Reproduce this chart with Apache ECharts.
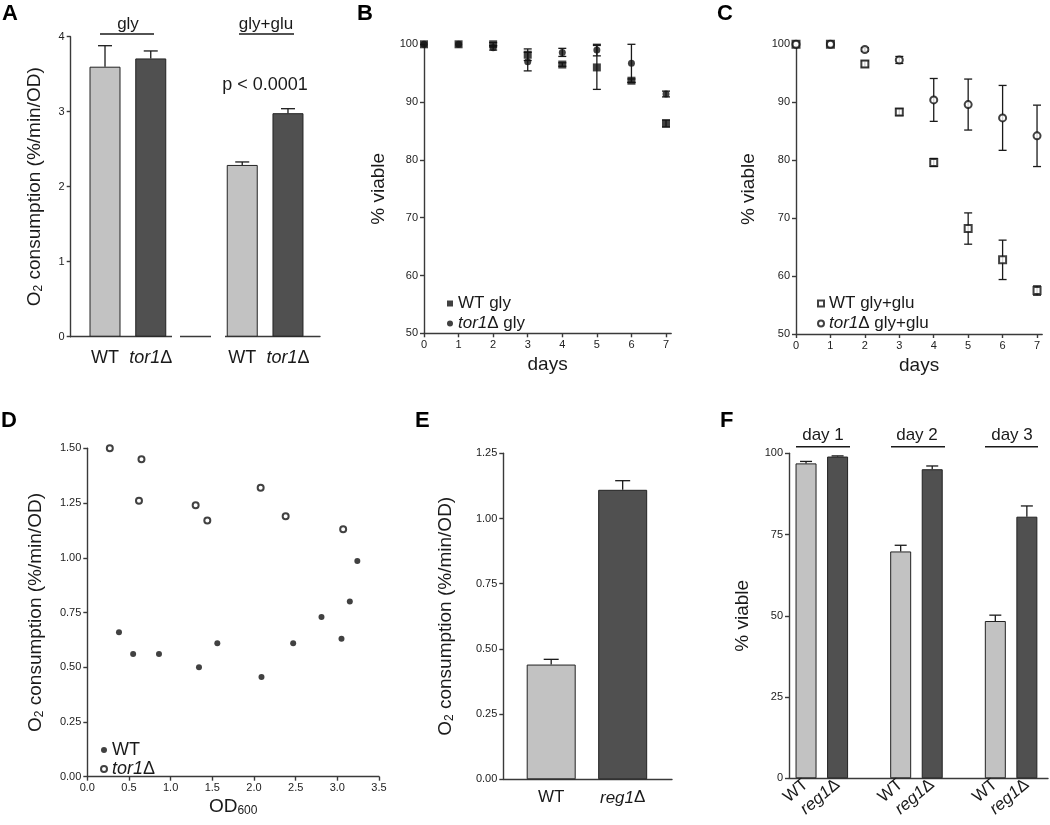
<!DOCTYPE html>
<html>
<head>
<meta charset="utf-8">
<script src="https://cdn.jsdelivr.net/npm/echarts@6/dist/echarts.min.js"></script>
<style>
html, body { margin: 0; padding: 0; background: #fff; }
#chart { width: 1050px; height: 825px; }
</style>
</head>
<body>
<div id="chart"></div>
<script>
// ---- data ----
// A: O2 consumption, gly vs gly+glu
var aGroups = ["gly", "gly+glu"];
var aStrains = ["WT", "tor1Δ"];
var aMean = [3.60, 3.71, 2.29, 2.98];
var aErr = [0.28, 0.10, 0.04, 0.06];

// B / C: viability over days
var days = [0, 1, 2, 3, 4, 5, 6, 7];
var bWT = [100, 100, 100, 98.2, 96.5, 96.0, 93.7, 86.3];
var bWTErr = [0, 0, 0.3, 1.0, 0.3, 3.8, 0.3, 0.6];
var bTor = [100, 100, 99.4, 97.0, 98.6, 99.0, 96.7, 91.4];
var bTorErr = [0, 0, 0.4, 1.6, 0.7, 1.0, 3.3, 0.5];
var cWT = [100, 100, 96.6, 88.3, 79.6, 68.2, 62.8, 57.5];
var cWTErr = [0, 0, 0.5, 0.6, 0.7, 2.7, 3.4, 0.8];
var cTor = [100, 100, 99.1, 97.3, 90.4, 89.6, 87.3, 84.2];
var cTorErr = [0, 0, 0.3, 0.6, 3.7, 4.4, 5.6, 5.3];

// D: O2 consumption vs OD600
var dWTx = [0.38, 0.55, 0.86, 1.34, 1.56, 2.09, 2.47, 2.81, 3.05, 3.15, 3.24];
var dWTy = [0.66, 0.56, 0.56, 0.50, 0.61, 0.455, 0.61, 0.73, 0.63, 0.80, 0.985];
var dTorX = [0.27, 0.65, 0.62, 1.30, 1.44, 2.08, 2.38, 3.07];
var dTorY = [1.50, 1.45, 1.26, 1.24, 1.17, 1.32, 1.19, 1.13];

// E: WT vs reg1
var eStrains = ["WT", "reg1Δ"];
var eMean = [0.44, 1.11];
var eErr = [0.02, 0.035];

// F: viability day 1-3
var fDays = ["day 1", "day 2", "day 3"];
var fStrains = ["WT", "reg1Δ"];
var fWT = [96.9, 69.8, 48.4];
var fWTErr = [0.6, 1.9, 1.8];
var fReg = [99.0, 95.1, 80.5];
var fRegErr = [0.2, 1.0, 3.3];

// ---- helpers ----
var FONT = "Liberation Sans, Arial, sans-serif";
var INK = "#1a1a1a";
var LIGHT = "#c2c2c2";
var DARK = "#505050";

function groupPos(i) {
  return Math.floor(i / 2) * 3 + (i % 2) + 1;
}

function errBars(capW, lowerCap) {
  return function (params, api) {
    var x = api.value(0);
    var top = api.coord([x, api.value(2)]);
    var bot = api.coord([x, api.value(1)]);
    if (Math.abs(top[1] - bot[1]) < 0.5) return null;
    var kids = [
      { type: "line", shape: { x1: top[0], y1: top[1], x2: bot[0], y2: bot[1] }, style: { stroke: INK, lineWidth: 1.3 } },
      { type: "line", shape: { x1: top[0] - capW / 2, y1: top[1], x2: top[0] + capW / 2, y2: top[1] }, style: { stroke: INK, lineWidth: 1.3 } }
    ];
    if (lowerCap) {
      kids.push({ type: "line", shape: { x1: bot[0] - capW / 2, y1: bot[1], x2: bot[0] + capW / 2, y2: bot[1] }, style: { stroke: INK, lineWidth: 1.3 } });
    }
    return { type: "group", children: kids };
  };
}

function strainLabel(s) {
  var m = s.match(/^(.*?)(Δ)$/);
  return m ? "{i|" + m[1] + "}{n|Δ}" : "{n|" + s + "}";
}

function richLabel(size) {
  return {
    n: { fontSize: size, fontFamily: FONT, color: INK },
    i: { fontSize: size, fontFamily: FONT, color: INK, fontStyle: "italic" }
  };
}

var axisLineStyle = { lineStyle: { color: "#3a3a3a", width: 1.4 } };
var tickLabel = { fontSize: 11, color: "#222", fontFamily: FONT, margin: 6 };
var nameStyle = {
  fontSize: 19, color: INK, fontFamily: FONT,
  rich: { sub: { fontSize: 12, fontFamily: FONT, color: INK, padding: [8, 0, 0, 0] } }
};

function yAx(grid, min, max, interval, name, gap, digits) {
  return {
    type: "value", gridIndex: grid, min: min, max: max, interval: interval,
    name: name, nameLocation: "middle", nameRotate: 90, nameGap: gap, nameTextStyle: nameStyle,
    axisLine: { show: true, lineStyle: axisLineStyle.lineStyle },
    axisTick: { show: true, length: 4, lineStyle: axisLineStyle.lineStyle },
    axisLabel: Object.assign({}, tickLabel, {
      formatter: function (v) { return digits ? v.toFixed(digits) : String(v); }
    }),
    splitLine: { show: false }
  };
}

function catXAx(grid, min, max, positions, labels, size, margin, rotate) {
  return {
    type: "value", gridIndex: grid, min: min, max: max,
    axisLine: { show: true, onZero: false, lineStyle: axisLineStyle.lineStyle },
    axisTick: { show: false },
    splitLine: { show: false },
    axisLabel: {
      customValues: positions,
      margin: margin,
      rotate: rotate || 0,
      formatter: function (v) {
        var k = positions.indexOf(v);
        return k < 0 ? "" : strainLabel(labels[k]);
      },
      rich: richLabel(size)
    }
  };
}

function dayXAx(grid) {
  return {
    type: "value", gridIndex: grid, min: 0, max: 7.15,
    name: "days", nameLocation: "middle", nameGap: 22, nameTextStyle: nameStyle,
    axisLine: { show: true, onZero: false, lineStyle: axisLineStyle.lineStyle },
    axisTick: { show: true, length: 4, customValues: days, lineStyle: axisLineStyle.lineStyle },
    axisLabel: Object.assign({}, tickLabel, { customValues: days }),
    splitLine: { show: false }
  };
}

// positions for grouped bars
var aPos = aMean.map(function (v, i) { return groupPos(i); });
var aLabels = aMean.map(function (v, i) { return aStrains[i % 2]; });
var ePos = eMean.map(function (v, i) { return i + 1; });
var fPos = [], fLabels = [], fVals = [], fErrs = [];
fDays.forEach(function (d, k) {
  fVals.push(fWT[k], fReg[k]);
  fErrs.push(fWTErr[k], fRegErr[k]);
});
fVals.forEach(function (v, i) { fPos.push(groupPos(i)); fLabels.push(fStrains[i % 2]); });

function barData(pos, vals) {
  return vals.map(function (v, i) {
    return { value: [pos[i], v], itemStyle: { color: i % 2 ? DARK : LIGHT } };
  });
}
function upErr(pos, vals, errs) {
  return vals.map(function (v, i) { return [pos[i], v, v + errs[i]]; });
}
function bothErr(xs, vals, errs) {
  return vals.map(function (v, i) { return [xs[i], v - errs[i], v + errs[i]]; });
}
function pairs(xs, ys) {
  return xs.map(function (x, i) { return [x, ys[i]]; });
}

function legendText(size) {
  return {
    fontSize: size, color: INK, fontFamily: FONT,
    rich: { i: { fontSize: size, color: INK, fontFamily: FONT, fontStyle: "italic" } }
  };
}
function legendFmt(name) { return name.replace("tor1Δ", "{i|tor1}Δ"); }

function txt(x, y, s, size, bold) {
  return {
    type: "text", x: x, y: y, silent: true,
    style: {
      text: s, fill: INK, font: (bold ? "bold " : "") + size + "px " + FONT,
      textAlign: "center", textVerticalAlign: "middle", align: "center", verticalAlign: "middle"
    }
  };
}
function letter(x, y, s) {
  return {
    type: "text", x: x, y: y, silent: true,
    style: { text: s, fill: "#000", font: "bold 22px " + FONT }
  };
}
function hline(x1, x2, y, color, w) {
  return {
    type: "line", silent: true, z: 10,
    shape: { x1: x1, y1: y, x2: x2, y2: y },
    style: { stroke: color || INK, lineWidth: w || 1.5 }
  };
}

var chart = echarts.init(document.getElementById("chart"));
var option = {
  backgroundColor: "#fff",
  animation: false,
  textStyle: { fontFamily: FONT },
  grid: [
    { left: 70.7, top: 36.7, width: 249.3, height: 300 },
    { left: 424, top: 44.3, width: 247.2, height: 289 },
    { left: 796, top: 44.3, width: 246.2, height: 289.7 },
    { left: 87.3, top: 448.3, width: 291.7, height: 328.4 },
    { left: 503.3, top: 453.3, width: 168.7, height: 326 },
    { left: 789, top: 453.3, width: 259, height: 325 }
  ],
  xAxis: [
    catXAx(0, 0.25, 5.7, aPos, aLabels, 18, 12),
    dayXAx(1),
    dayXAx(2),
    {
      type: "value", gridIndex: 3, min: 0, max: 3.5, interval: 0.5,
      name: "OD{sub|600}", nameLocation: "middle", nameGap: 20,
      nameTextStyle: nameStyle,
      axisLine: { show: true, onZero: false, lineStyle: axisLineStyle.lineStyle },
      axisTick: { show: true, length: 4, lineStyle: axisLineStyle.lineStyle },
      axisLabel: Object.assign({}, tickLabel, { formatter: function (v) { return v.toFixed(1); } }),
      splitLine: { show: false }
    },
    catXAx(4, 0.33, 2.69, ePos, eStrains, 17, 10),
    catXAx(5, 0.46, 8.67, fPos, fLabels, 17, 4, 40)
  ],
  yAxis: [
    yAx(0, 0, 4, 1, "O{sub|2} consumption (%/min/OD)", 26, 0),
    yAx(1, 50, 100, 10, "% viable", 36, 0),
    yAx(2, 50, 100, 10, "% viable", 38, 0),
    yAx(3, 0, 1.5, 0.25, "O{sub|2} consumption (%/min/OD)", 42, 2),
    yAx(4, 0, 1.25, 0.25, "O{sub|2} consumption (%/min/OD)", 48, 2),
    yAx(5, 0, 100, 25, "% viable", 37, 0)
  ],
  legend: [
    {
      data: ["WT gly", "tor1Δ gly"], left: 442, top: 290, orient: "vertical",
      itemWidth: 6, itemHeight: 6, itemGap: 3, textStyle: legendText(17), formatter: legendFmt,
      selectedMode: false
    },
    {
      data: ["WT gly+glu", "tor1Δ gly+glu"], left: 812, top: 290, orient: "vertical",
      itemWidth: 6, itemHeight: 6, itemGap: 3, textStyle: legendText(17), formatter: legendFmt,
      selectedMode: false
    },
    {
      data: ["WT", "tor1Δ"], left: 95, top: 736, orient: "vertical",
      itemWidth: 6, itemHeight: 6, itemGap: 1, textStyle: legendText(18), formatter: legendFmt,
      selectedMode: false
    }
  ],
  series: [
    // A
    {
      name: "A bars", type: "bar", xAxisIndex: 0, yAxisIndex: 0, barWidth: 31,
      itemStyle: { borderColor: "#222", borderWidth: 1 },
      data: barData(aPos, aMean), z: 2
    },
    {
      name: "A err", type: "custom", xAxisIndex: 0, yAxisIndex: 0, z: 3,
      renderItem: errBars(14, false), encode: { x: 0, y: [1, 2] },
      data: upErr(aPos, aMean, aErr)
    },
    // B
    {
      name: "B err WT", type: "custom", xAxisIndex: 1, yAxisIndex: 1, z: 1,
      renderItem: errBars(8, true), encode: { x: 0, y: [1, 2] },
      data: bothErr(days, bWT, bWTErr)
    },
    {
      name: "B err tor", type: "custom", xAxisIndex: 1, yAxisIndex: 1, z: 1,
      renderItem: errBars(8, true), encode: { x: 0, y: [1, 2] },
      data: bothErr(days, bTor, bTorErr)
    },
    {
      name: "WT gly", type: "scatter", xAxisIndex: 1, yAxisIndex: 1, z: 3,
      symbol: "rect", symbolSize: 8, itemStyle: { color: "#111" },
      data: pairs(days, bWT)
    },
    {
      name: "tor1Δ gly", type: "scatter", xAxisIndex: 1, yAxisIndex: 1, z: 3,
      symbol: "circle", symbolSize: 7, itemStyle: { color: "#111" },
      data: pairs(days, bTor)
    },
    // C
    {
      name: "C err WT", type: "custom", xAxisIndex: 2, yAxisIndex: 2, z: 1,
      renderItem: errBars(8, true), encode: { x: 0, y: [1, 2] },
      data: bothErr(days, cWT, cWTErr)
    },
    {
      name: "C err tor", type: "custom", xAxisIndex: 2, yAxisIndex: 2, z: 1,
      renderItem: errBars(8, true), encode: { x: 0, y: [1, 2] },
      data: bothErr(days, cTor, cTorErr)
    },
    {
      name: "WT gly+glu", type: "scatter", xAxisIndex: 2, yAxisIndex: 2, z: 3,
      symbol: "emptyRect", symbolSize: 7, itemStyle: { color: "#111", borderWidth: 1.2 },
      data: pairs(days, cWT)
    },
    {
      name: "tor1Δ gly+glu", type: "scatter", xAxisIndex: 2, yAxisIndex: 2, z: 3,
      symbol: "emptyCircle", symbolSize: 7, itemStyle: { color: "#111", borderWidth: 1.2 },
      data: pairs(days, cTor)
    },
    // D
    {
      name: "WT", type: "scatter", xAxisIndex: 3, yAxisIndex: 3,
      symbol: "circle", symbolSize: 6, itemStyle: { color: "#111" },
      data: pairs(dWTx, dWTy)
    },
    {
      name: "tor1Δ", type: "scatter", xAxisIndex: 3, yAxisIndex: 3,
      symbol: "emptyCircle", symbolSize: 6, itemStyle: { color: "#111", borderWidth: 1.2 },
      data: pairs(dTorX, dTorY)
    },
    // E
    {
      name: "E bars", type: "bar", xAxisIndex: 4, yAxisIndex: 4, barWidth: 49,
      itemStyle: { borderColor: "#222", borderWidth: 1 },
      data: barData(ePos, eMean), z: 2
    },
    {
      name: "E err", type: "custom", xAxisIndex: 4, yAxisIndex: 4, z: 3,
      renderItem: errBars(15, false), encode: { x: 0, y: [1, 2] },
      data: upErr(ePos, eMean, eErr)
    },
    // F
    {
      name: "F bars", type: "bar", xAxisIndex: 5, yAxisIndex: 5, barWidth: 21,
      itemStyle: { borderColor: "#222", borderWidth: 1 },
      data: barData(fPos, fVals), z: 2
    },
    {
      name: "F err", type: "custom", xAxisIndex: 5, yAxisIndex: 5, z: 3,
      renderItem: errBars(12, false), encode: { x: 0, y: [1, 2] },
      data: upErr(fPos, fVals, fErrs)
    }
  ],
  graphic: [
    letter(2, 3, "A"), letter(357, 3, "B"), letter(717, 3, "C"),
    letter(1, 410, "D"), letter(415, 410, "E"), letter(720, 410, "F"),
    // broken x axis in panel A
    hline(172, 180, 336.7, "#fff", 4), hline(211, 225, 336.7, "#fff", 4),
    // group brackets, panel A
    txt(128, 24, aGroups[0], 17), hline(100, 154, 34),
    txt(266, 24, aGroups[1], 17), hline(239, 294, 34),
    txt(265, 85, "p < 0.0001", 18),
    // group brackets, panel F
    txt(823, 435, fDays[0], 17), hline(796, 850, 446.7),
    txt(917, 435, fDays[1], 17), hline(891, 945, 446.7),
    txt(1012, 435, fDays[2], 17), hline(985, 1038, 446.7)
  ]
};
chart.setOption(option);
</script>
</body>
</html>
